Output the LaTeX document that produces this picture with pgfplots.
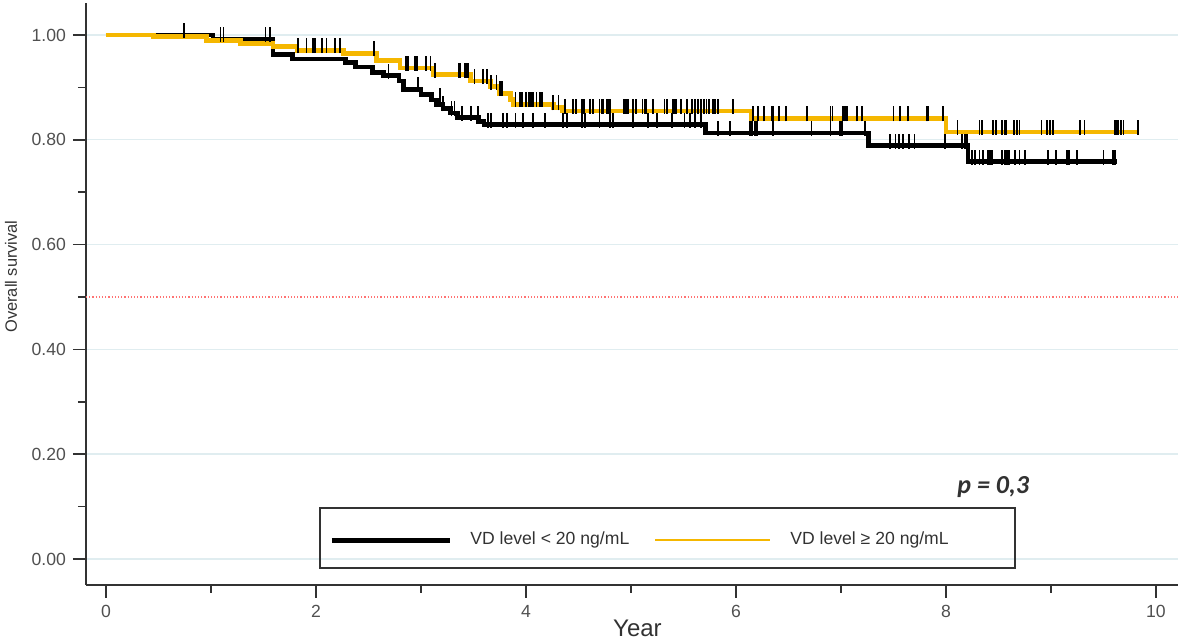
\documentclass[border=0pt]{standalone}
\usepackage{pgfplots}
\pgfplotsset{compat=1.18}
\usepackage{fontspec}
\setmainfont{Liberation Sans}
\newfontfamily\calibri{Carlito}
\definecolor{kmorange}{RGB}{245,183,0}
\definecolor{gridc}{RGB}{224,237,240}
\definecolor{axc}{RGB}{50,50,50}
\definecolor{tickc}{RGB}{80,80,80}
\pgfdeclareplotmark{censor}{%
  \pgfpathmoveto{\pgfqpoint{0pt}{-1.5pt}}%
  \pgfpathlineto{\pgfqpoint{0pt}{\pgfplotmarksize}}%
  \pgfusepathqstroke}

\pgfplotstableread{
x y
0.00 1.000
1.02 0.992
1.59 0.962
1.78 0.954
2.28 0.947
2.38 0.939
2.54 0.929
2.64 0.922
2.79 0.912
2.83 0.896
3.00 0.886
3.10 0.876
3.15 0.868
3.21 0.860
3.28 0.851
3.35 0.842
3.55 0.835
3.60 0.829
5.71 0.813
7.26 0.789
8.21 0.758
9.63 0.758
}\lowcurve

\pgfplotstableread{
x y
0.00 1.000
0.45 0.997
0.96 0.990
1.28 0.984
1.59 0.978
1.82 0.971
2.26 0.965
2.58 0.951
2.80 0.937
3.12 0.924
3.47 0.912
3.66 0.901
3.75 0.889
3.85 0.877
3.88 0.868
4.26 0.862
4.35 0.855
6.15 0.841
8.00 0.815
9.83 0.815
}\highcurve

\pgfplotstableread{
x y
0.74 1.000
1.09 0.992
1.12 0.992
1.52 0.992
1.56 0.992
2.69 0.922
2.97 0.896
3.18 0.876
3.21 0.860
3.29 0.851
3.32 0.851
3.39 0.842
3.48 0.842
3.54 0.842
3.64 0.829
3.67 0.829
3.78 0.829
3.82 0.829
3.90 0.829
3.97 0.829
4.07 0.829
4.18 0.829
4.35 0.829
4.39 0.829
4.53 0.829
4.56 0.829
4.70 0.829
4.80 0.829
4.83 0.829
5.02 0.829
5.16 0.829
5.25 0.829
5.39 0.829
5.51 0.829
5.56 0.829
5.61 0.829
5.67 0.829
5.83 0.813
5.94 0.813
6.13 0.813
6.15 0.813
6.18 0.813
6.20 0.813
6.35 0.813
6.72 0.813
6.90 0.813
6.99 0.813
7.01 0.813
7.23 0.813
7.47 0.789
7.52 0.789
7.55 0.789
7.59 0.789
7.65 0.789
7.70 0.789
7.99 0.789
8.15 0.789
8.18 0.789
8.20 0.789
8.25 0.758
8.28 0.758
8.32 0.758
8.35 0.758
8.40 0.758
8.42 0.758
8.44 0.758
8.53 0.758
8.56 0.758
8.58 0.758
8.60 0.758
8.66 0.758
8.70 0.758
8.75 0.758
8.97 0.758
9.05 0.758
9.15 0.758
9.17 0.758
9.25 0.758
9.50 0.758
9.59 0.758
9.61 0.758
}\lowcens

\pgfplotstableread{
x y
1.83 0.971
1.91 0.971
1.97 0.971
1.99 0.971
2.06 0.971
2.10 0.971
2.18 0.971
2.23 0.971
2.55 0.965
2.86 0.937
2.88 0.937
2.94 0.937
2.96 0.937
3.05 0.937
3.09 0.937
3.13 0.924
3.36 0.924
3.37 0.924
3.42 0.924
3.44 0.924
3.45 0.924
3.51 0.912
3.59 0.912
3.63 0.912
3.67 0.901
3.72 0.901
3.75 0.889
3.77 0.889
3.90 0.868
3.94 0.868
3.96 0.868
4.00 0.868
4.03 0.868
4.05 0.868
4.07 0.868
4.10 0.868
4.13 0.868
4.15 0.868
4.26 0.862
4.31 0.862
4.37 0.855
4.45 0.855
4.48 0.855
4.53 0.855
4.55 0.855
4.61 0.855
4.64 0.855
4.70 0.855
4.72 0.855
4.73 0.855
4.77 0.855
4.78 0.855
4.80 0.855
4.93 0.855
4.94 0.855
4.96 0.855
4.97 0.855
5.02 0.855
5.05 0.855
5.11 0.855
5.13 0.855
5.14 0.855
5.21 0.855
5.32 0.855
5.34 0.855
5.40 0.855
5.42 0.855
5.43 0.855
5.48 0.855
5.53 0.855
5.58 0.855
5.61 0.855
5.64 0.855
5.67 0.855
5.69 0.855
5.70 0.855
5.72 0.855
5.74 0.855
5.78 0.855
5.80 0.855
5.83 0.855
5.97 0.855
6.16 0.841
6.21 0.841
6.27 0.841
6.34 0.841
6.35 0.841
6.41 0.841
6.48 0.841
6.68 0.841
6.90 0.841
6.92 0.841
7.02 0.841
7.04 0.841
7.06 0.841
7.15 0.841
7.20 0.841
7.50 0.841
7.56 0.841
7.64 0.841
7.82 0.841
7.83 0.841
7.97 0.841
8.11 0.815
8.32 0.815
8.34 0.815
8.45 0.815
8.48 0.815
8.53 0.815
8.56 0.815
8.57 0.815
8.65 0.815
8.68 0.815
8.70 0.815
8.91 0.815
8.96 0.815
8.99 0.815
9.02 0.815
9.28 0.815
9.32 0.815
9.61 0.815
9.63 0.815
9.64 0.815
9.67 0.815
9.69 0.815
9.83 0.815
}\highcens

\begin{document}
\begin{tikzpicture}
\begin{axis}[
  name=ax,
  scale only axis,
  width=546pt, height=291pt,
  xmin=-0.19, xmax=10.21,
  ymin=-0.0496, ymax=1.061,
  axis x line*=bottom, axis y line*=left,
  axis line style={line width=1pt, axc},
  xtick={0,2,4,6,8,10},
  minor xtick={1,3,5,7,9},
  ytick={0,0.2,0.4,0.6,0.8,1.0},
  minor ytick={0.1,0.3,0.5,0.7,0.9},
  tick align=outside,
  major tick length=6.5pt, minor tick length=4pt,
  every tick/.style={line width=0.8pt, axc},
  ymajorgrids,
  grid style={gridc, line width=0.7pt},
  /pgf/number format/assume math mode=true,
  tick label style={font=\fontsize{8.8}{10}\selectfont, text=tickc},
  yticklabel style={/pgf/number format/.cd, fixed, fixed zerofill, precision=2},
  xticklabel style={/pgf/number format/.cd, fixed, precision=0},
  ylabel={Overall survival},
  xlabel={Year},
  every axis y label/.style={at={(axis description cs:0,0.53)}, rotate=90, anchor=center, yshift=37.5pt, font=\fontsize{8.2}{10}\selectfont, text=axc},
  every axis x label/.style={at={(axis description cs:0.505,0)}, anchor=center, yshift=-21.5pt, font=\fontsize{12}{14}\selectfont, text=axc},
  clip=false,
]
% reference line at 0.5
\addplot[forget plot, red!55, densely dotted, line width=0.6pt] coordinates {(-0.19,0.5) (10.21,0.5)};
% survival curves
\addplot[const plot, black, line width=2.4pt] table[x=x,y=y] {\lowcurve};
\addplot[const plot, kmorange, line width=2.4pt] table[x=x,y=y] {\highcurve};
% censoring marks
\addplot[only marks, mark=censor, mark size=6pt, mark options={black, line width=0.9pt}] table[x=x,y=y] {\lowcens};
\addplot[only marks, mark=censor, mark size=6pt, mark options={black, line width=0.9pt}] table[x=x,y=y] {\highcens};
% legend box
\draw[axc, line width=1pt] (axis cs:2.04,-0.017) rectangle (axis cs:8.66,0.097);
\draw[black, line width=2.4pt] (axis cs:2.152,0.036) -- (axis cs:3.276,0.036);
\node[anchor=west, inner sep=0pt, font=\fontsize{8.8}{10}\selectfont, text=axc] at (axis cs:3.467,0.036) {VD level < 20 ng/mL};
\draw[kmorange, line width=1.2pt] (axis cs:5.229,0.036) -- (axis cs:6.324,0.036);
\node[anchor=west, inner sep=0pt, font=\fontsize{8.8}{10}\selectfont, text=axc] at (axis cs:6.514,0.036) {VD level ≥ 20 ng/mL};
% p-value
\node[anchor=center, inner sep=0pt, font=\calibri\bfseries\itshape\fontsize{13}{15}\selectfont, text=axc] at (axis cs:8.45,0.137) {p = 0,3};
\end{axis}
\pgfresetboundingbox
\path ([xshift=-43pt,yshift=-27.5pt]ax.south west) rectangle ([xshift=1.5pt,yshift=1.5pt]ax.north east);
\end{tikzpicture}
\end{document}
